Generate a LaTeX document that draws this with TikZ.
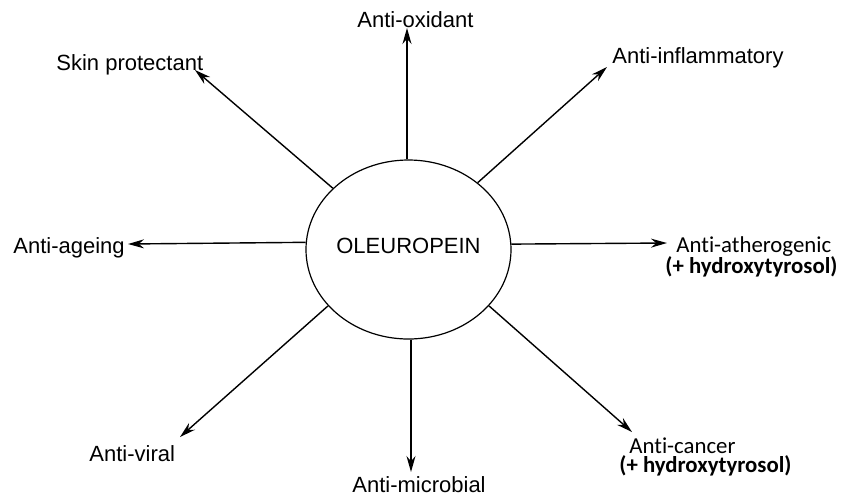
\documentclass[tikz,border=0pt]{standalone}
\usepackage{fontspec}
\setmainfont{Liberation Sans}
\newfontfamily\calfont[Ligatures=NoCommon]{Carlito}
\usetikzlibrary{shapes.geometric,arrows.meta}

\begin{document}
\begin{tikzpicture}[x=0.5pt,y=-0.5pt,
    lbl/.style={anchor=base west, inner sep=0pt, font=\fontsize{11}{13}\selectfont},
    cal/.style={anchor=base west, inner sep=0pt, font=\calfont\fontsize{11.4}{13}\selectfont},
    arr/.style={-{Stealth[length=8pt,width=4.5pt]}, line width=0.7pt}]
\useasboundingbox (0,0) rectangle (843,495);

\node[draw, ellipse, line width=0.6pt, minimum width=102.5pt, minimum height=89.5pt,
      inner sep=0pt, text height=3.5pt, text depth=0pt, font=\fontsize{11}{13}\selectfont]
      (O) at (408.5,249.5) {OLEUROPEIN};

% labels
\node[lbl](ox) at (357, 27){Anti-oxidant};
\node[lbl](skin) at (56, 70){Skin protectant};
\node[lbl](infl) at (612, 63){Anti-inflammatory};
\node[lbl](age) at (13, 253){Anti-ageing};
\node[cal](ath) at (676, 252){Anti-atherogenic};
\node[cal](athb) at (665, 273){\bfseries (+ hydroxytyrosol)};
\node[lbl](vir) at (89, 461){Anti-viral};
\node[lbl](mic) at (352, 492){Anti-microbial};
\node[cal](can) at (629, 453){Anti-cancer};
\node[cal](canb) at (619, 472){\bfseries (+ hydroxytyrosol)};

% arrow tips
\coordinate (tOx) at (407, 28);
\coordinate (tSkin) at (195, 70);
\coordinate (tInfl) at (607, 67);
\coordinate (tAth) at (667, 243);
\coordinate (tAge) at (128, 244);
\coordinate (tVir) at (180, 437);
\coordinate (tMic) at (411, 472);
\coordinate (tCan) at (632, 432);

\draw[arr] (O.north -| tOx) -- (tOx);
\draw[arr] (O.141.5) -- (tSkin);
\draw[arr] (O.44.6) -- (tInfl);
\draw[arr] (O.3.6) -- (tAth);
\draw[arr] (O.176.9) -- (tAge);
\draw[arr] (O.215.7) -- (tVir);
\draw[arr] (O.south -| tMic) -- (tMic);
\draw[arr] (O.325.9) -- (tCan);

\end{tikzpicture}
\end{document}
